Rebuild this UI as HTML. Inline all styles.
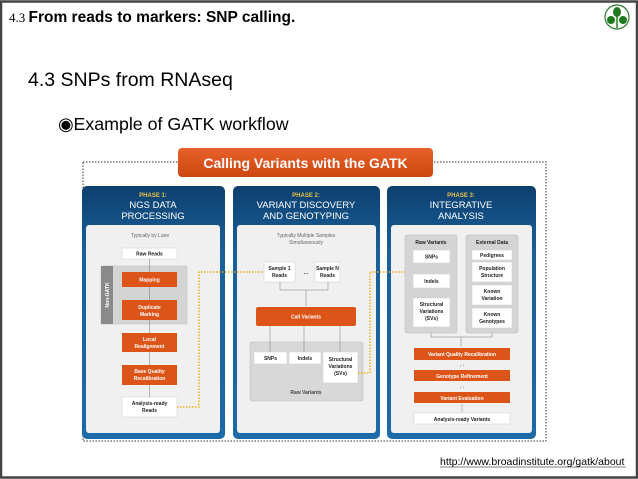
<!DOCTYPE html>
<html><head><meta charset="utf-8"><style>
html,body{margin:0;padding:0;background:#fff;}
svg{display:block;}
text{font-family:"Liberation Sans",sans-serif;}
</style></head><body>
<svg width="638" height="479" viewBox="0 0 638 479" xmlns="http://www.w3.org/2000/svg">
<defs>
<linearGradient id="bl" x1="0" y1="0" x2="0" y2="1"><stop offset="0" stop-color="#0c3f6e"/><stop offset="0.25" stop-color="#1a5f98"/><stop offset="1" stop-color="#1d6aa8"/></linearGradient>
<linearGradient id="or" x1="0" y1="0" x2="0" y2="1"><stop offset="0" stop-color="#e8602a"/><stop offset="1" stop-color="#cf4710"/></linearGradient>
</defs>
<rect x="1" y="1.5" width="636" height="476" fill="none" stroke="#444" stroke-width="2.5"/>
<text x="9" y="22" font-size="15.5" fill="#000"><tspan font-family="Liberation Serif" font-size="13">4.3 </tspan><tspan font-weight="bold">From reads to markers: SNP calling.</tspan></text>
<circle cx="617" cy="17" r="12" fill="#fff" stroke="#2a7a2a" stroke-width="1.2"/>
<ellipse cx="617" cy="12" rx="4" ry="5" fill="#1f7a1f"/><ellipse cx="611" cy="20" rx="4" ry="4" fill="#1f7a1f"/><ellipse cx="623" cy="20" rx="4" ry="4" fill="#1f7a1f"/><line x1="617" y1="15" x2="617" y2="28" stroke="#1f7a1f" stroke-width="1.5"/>
<text x="28" y="86" font-size="19.5" fill="#000">4.3 SNPs from RNAseq</text>
<text x="58" y="130" font-size="17.8" fill="#000">◉Example of GATK workflow</text>

<rect x="83" y="162" width="463" height="279" fill="none" stroke="#333" stroke-width="1" stroke-dasharray="1.5,1.5"/>
<rect x="178" y="148" width="255" height="29" rx="4" fill="url(#or)"/>
<text x="305.5" y="168" font-size="14" font-weight="bold" fill="#fff" text-anchor="middle">Calling Variants with the GATK</text>

<g font-size="9.5" text-anchor="middle">
<rect x="82" y="186" width="143" height="253" rx="5" fill="url(#bl)"/>
<rect x="86" y="225" width="134" height="208" rx="3" fill="#f0f0f0"/>
<text x="153" y="197" font-size="6" fill="#e8c24a" font-weight="bold">PHASE 1:</text>
<text x="153" y="208" fill="#fff">NGS DATA</text><text x="153" y="219" fill="#fff">PROCESSING</text>
<rect x="233" y="186" width="147" height="253" rx="5" fill="url(#bl)"/>
<rect x="237" y="225" width="139" height="208" rx="3" fill="#f0f0f0"/>
<text x="306" y="197" font-size="6" fill="#e8c24a" font-weight="bold">PHASE 2:</text>
<text x="306" y="208" fill="#fff">VARIANT DISCOVERY</text><text x="306" y="219" fill="#fff">AND GENOTYPING</text>
<rect x="387" y="186" width="149" height="253" rx="5" fill="url(#bl)"/>
<rect x="391" y="225" width="141" height="208" rx="3" fill="#f0f0f0"/>
<text x="461" y="197" font-size="6" fill="#e8c24a" font-weight="bold">PHASE 3:</text>
<text x="461" y="208" fill="#fff">INTEGRATIVE</text><text x="461" y="219" fill="#fff">ANALYSIS</text>
</g>

<g font-size="5" text-anchor="middle" font-weight="bold">
<text x="150" y="237" fill="#666" font-weight="normal">Typically by Lane</text>
<rect x="101" y="266" width="86" height="58" fill="#d4d4d4" stroke="#bbb" stroke-width="0.5"/>
<rect x="101" y="266" width="12" height="58" fill="#8a8a8a"/>
<text x="109" y="295" fill="#fff" transform="rotate(-90 109 295)">Non-GATK</text>
<rect x="122" y="248" width="55" height="11" fill="#fff" stroke="#ccc" stroke-width="0.5"/><text x="149.5" y="255.5" fill="#222">Raw Reads</text>
<rect x="122" y="272" width="55" height="15" fill="#dd5418"/><text x="149.5" y="281.5" fill="#fff">Mapping</text>
<rect x="122" y="300" width="55" height="20" fill="#dd5418"/><text x="149.5" y="309" fill="#fff">Duplicate</text><text x="149.5" y="316" fill="#fff">Marking</text>
<rect x="122" y="333" width="55" height="19" fill="#dd5418"/><text x="149.5" y="341" fill="#fff">Local</text><text x="149.5" y="348" fill="#fff">Realignment</text>
<rect x="122" y="365" width="55" height="20" fill="#dd5418"/><text x="149.5" y="373" fill="#fff">Base Quality</text><text x="149.5" y="380" fill="#fff">Recalibration</text>
<rect x="122" y="397" width="55" height="20" fill="#fff" stroke="#ccc" stroke-width="0.5"/><text x="149.5" y="405" fill="#222">Analysis-ready</text><text x="149.5" y="412" fill="#222">Reads</text>
<g stroke="#777" stroke-width="0.5"><line x1="149.5" y1="259" x2="149.5" y2="272"/><line x1="149.5" y1="287" x2="149.5" y2="300"/><line x1="149.5" y1="320" x2="149.5" y2="333"/><line x1="149.5" y1="352" x2="149.5" y2="365"/><line x1="149.5" y1="385" x2="149.5" y2="397"/></g>

<text x="306" y="237" fill="#666" font-weight="normal">Typically Multiple Samples</text>
<text x="306" y="244" fill="#666" font-weight="normal">Simultaneously</text>
<rect x="264" y="262" width="31" height="20" fill="#fff" stroke="#ccc" stroke-width="0.5"/><text x="279.5" y="270" fill="#222">Sample 1</text><text x="279.5" y="277" fill="#222">Reads</text>
<text x="306" y="274" fill="#222">...</text>
<rect x="315" y="262" width="25" height="20" fill="#fff" stroke="#ccc" stroke-width="0.5"/><text x="327.5" y="270" fill="#222">Sample N</text><text x="327.5" y="277" fill="#222">Reads</text>
<path d="M280 282 V290 H328 V282 M306 290 V306" fill="none" stroke="#777" stroke-width="0.5"/>
<rect x="256" y="307" width="100" height="19" rx="2" fill="#dd5418"/><text x="306" y="318.5" fill="#fff">Call Variants</text>
<rect x="250" y="342" width="113" height="59" rx="2" fill="#d8d8d8" stroke="#bbb" stroke-width="0.5"/>
<g stroke="#777" stroke-width="0.5"><line x1="270" y1="326" x2="270" y2="352"/><line x1="304" y1="326" x2="304" y2="352"/><line x1="340" y1="326" x2="340" y2="352"/></g>
<rect x="254" y="352" width="33" height="12" fill="#fff" stroke="#ccc" stroke-width="0.5"/><text x="270.5" y="360" fill="#222">SNPs</text>
<rect x="289" y="352" width="32" height="12" fill="#fff" stroke="#ccc" stroke-width="0.5"/><text x="305" y="360" fill="#222">Indels</text>
<rect x="323" y="352" width="35" height="31" fill="#fff" stroke="#ccc" stroke-width="0.5"/><text x="340.5" y="361" fill="#222">Structural</text><text x="340.5" y="368" fill="#222">Variations</text><text x="340.5" y="375" fill="#222">(SVs)</text>
<text x="306" y="394" fill="#444">Raw Variants</text>

<rect x="405" y="235" width="52" height="98" rx="2" fill="#d4d4d4" stroke="#bbb" stroke-width="0.5"/>
<rect x="466" y="235" width="52" height="98" rx="2" fill="#d4d4d4" stroke="#bbb" stroke-width="0.5"/>
<text x="431" y="244" fill="#222">Raw Variants</text><text x="492" y="244" fill="#222">External Data</text>
<rect x="413" y="250" width="37" height="13" fill="#fff" stroke="#ccc" stroke-width="0.5"/><text x="431.5" y="258.5" fill="#222">SNPs</text>
<rect x="413" y="274" width="37" height="14" fill="#fff" stroke="#ccc" stroke-width="0.5"/><text x="431.5" y="283" fill="#222">Indels</text>
<rect x="413" y="298" width="37" height="29" fill="#fff" stroke="#ccc" stroke-width="0.5"/><text x="431.5" y="306" fill="#222">Structural</text><text x="431.5" y="313" fill="#222">Variations</text><text x="431.5" y="320" fill="#222">(SVs)</text>
<rect x="472" y="250" width="40" height="10" fill="#fff" stroke="#ccc" stroke-width="0.5"/><text x="492" y="257" fill="#222">Pedigrees</text>
<rect x="472" y="262" width="40" height="20" fill="#fff" stroke="#ccc" stroke-width="0.5"/><text x="492" y="270" fill="#222">Population</text><text x="492" y="277" fill="#222">Structure</text>
<rect x="472" y="285" width="40" height="20" fill="#fff" stroke="#ccc" stroke-width="0.5"/><text x="492" y="293" fill="#222">Known</text><text x="492" y="300" fill="#222">Variation</text>
<rect x="472" y="308" width="40" height="20" fill="#fff" stroke="#ccc" stroke-width="0.5"/><text x="492" y="316" fill="#222">Known</text><text x="492" y="323" fill="#222">Genotypes</text>
<path d="M431 333 V337 H492 V333 M461 337 V347" fill="none" stroke="#777" stroke-width="0.5"/>
<rect x="414" y="348" width="96" height="12" fill="#dd5418"/><text x="462" y="356" fill="#fff">Variant Quality Recalibration</text>
<text x="462" y="367" fill="#777" font-weight="normal">↓↑</text>
<rect x="414" y="370" width="96" height="11" fill="#dd5418"/><text x="462" y="378" fill="#fff">Genotype Refinement</text>
<text x="462" y="389" fill="#777" font-weight="normal">↓↑</text>
<rect x="414" y="392" width="96" height="11" fill="#dd5418"/><text x="462" y="400" fill="#fff">Variant Evaluation</text>
<line x1="462" y1="404" x2="462" y2="412" stroke="#777" stroke-width="0.5"/>
<rect x="414" y="413" width="96" height="11" fill="#fff" stroke="#ccc" stroke-width="0.5"/><text x="462" y="421" fill="#222">Analysis-ready Variants</text>
</g>

<g fill="none" stroke="#f0b020" stroke-width="1.5" stroke-dasharray="1.5,1.5">
<path d="M177 407 H199 V272 H263"/>
<path d="M358 373 H370 V272 H405"/>
</g>

<text x="440" y="465" font-size="10.5" fill="#000" font-family="Liberation Serif">http://www.broadinstitute.org/gatk/about</text>
<line x1="440" y1="467" x2="626" y2="467" stroke="#000" stroke-width="0.6"/>
</svg>
</body></html>
